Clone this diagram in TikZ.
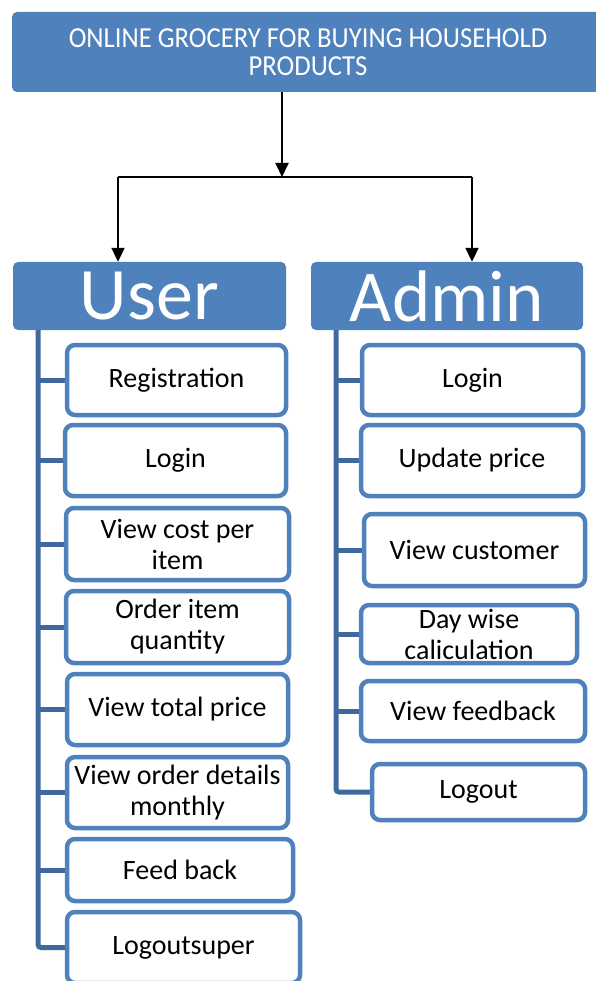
\documentclass[tikz,border=0pt]{standalone}
\usepackage{fontspec}
\setmainfont{Carlito}
\newfontfamily\titlefont[FakeStretch=0.92]{Carlito}
\usepackage{tikz}
\usetikzlibrary{arrows.meta,backgrounds}
\definecolor{boxblue}{RGB}{79,129,189}
\definecolor{stemblue}{RGB}{65,104,156}

\begin{document}
\begin{tikzpicture}[x=1pt,y=-1pt,
  head/.style={fill=boxblue,rounded corners=5pt,text=white,inner sep=0pt},
  item/.style={draw=boxblue,line width=4.5pt,rounded corners=8pt,fill=white,
    align=center,inner sep=0pt,font=\fontsize{28}{31}\selectfont},
  stem/.style={draw=stemblue,line width=5pt,rounded corners=3pt},
  arr/.style={line width=2pt,-{Triangle[length=14pt,width=13pt]}}]
\useasboundingbox (0,0) rectangle (595,981);

% title and the two headers
\node[head,minimum width=592,minimum height=80,align=center,
  font=\titlefont\fontsize{29}{28}\selectfont] (title) at (308,52)
  {ONLINE GROCERY FOR BUYING HOUSEHOLD\\PRODUCTS};
\node[head,minimum width=273,minimum height=68,font=\fontsize{74}{74}\selectfont] (user) at (149.5,296) {User};
\node[head,minimum width=272,minimum height=68,font=\fontsize{73}{73}\selectfont] (admin) at (447,296) {Admin};

\coordinate (fork) at (282,177);
\coordinate (ujoin) at (118,177);
\coordinate (ajoin) at (472,177);
\draw[arr] (title.south -| fork) -- (fork);
\draw[line width=2pt] (ujoin) -- (ajoin);
\draw[arr] (ujoin) -- (ujoin |- user.north);
\draw[arr] (ajoin) -- (ajoin |- admin.north);

% user side
\node[item,minimum width=219,minimum height=70] (u1) at (176.5,380) {Registration};
\node[item,minimum width=221,minimum height=71] (u2) at (175.5,460.5) {Login};
\node[item,minimum width=223,minimum height=72] (u3) at (177.5,544) {View cost per\\item};
\node[item,minimum width=223,minimum height=72] (u4) at (177.5,627) {Order item\\quantity};
\node[item,minimum width=221,minimum height=71] (u5) at (177.5,709.5) {View total price};
\node[item,minimum width=221,minimum height=71] (u6) at (177.5,792.5) {View order details\\monthly};
\node[item,minimum width=226,minimum height=62] (u7) at (180,870) {Feed back};
\node[item,minimum width=233,minimum height=71] (u8) at (183.5,947.5) {Logoutsuper};

% admin side
\node[item,minimum width=221,minimum height=70] (a1) at (472.5,380) {Login};
\node[item,minimum width=222,minimum height=71] (a2) at (472,460.5) {Update price};
\node[item,minimum width=221,minimum height=72] (a3) at (474.5,550) {View customer};
\node[item,minimum width=216,minimum height=58] (a4) at (469,634) {Day wise\\caliculation};
\node[item,minimum width=224,minimum height=60] (a5) at (473,711) {View feedback};
\node[item,minimum width=213,minimum height=56] (a6) at (478.5,792) {Logout};

\coordinate (ustem) at (38,330);
\coordinate (astem) at (336,330);
\begin{scope}[on background layer]
\draw[stem] (ustem) |- (u8.west);
\foreach \n in {u1,u2,u3,u4,u5,u6,u7}
  \draw[stem] (ustem |- \n.west) -- (\n.west);
\draw[stem] (astem) |- (a6.west);
\foreach \n in {a1,a2,a3,a4,a5}
  \draw[stem] (astem |- \n.west) -- (\n.west);
\end{scope}
\end{tikzpicture}
\end{document}
